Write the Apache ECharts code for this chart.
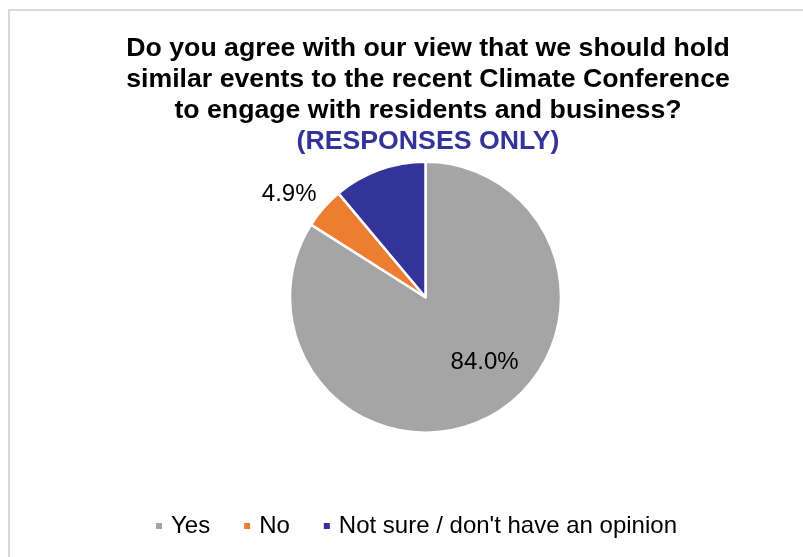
<!DOCTYPE html>
<html>
<head>
<meta charset="utf-8">
<script src="https://cdn.jsdelivr.net/npm/echarts@6/dist/echarts.min.js"></script>
<style>
  html, body { margin: 0; padding: 0; background: #ffffff; }
  #chart { width: 803px; height: 557px; }
</style>
</head>
<body>
<div id="chart"></div>
<script>
// Survey answers, share of responses (%)
const categories = ['Yes', 'No', 'Not sure / don\'t have an opinion'];
const shares = [84.0, 4.9, 11.1];
const sliceColors = ['#A5A5A5', '#ED7D31', '#333399'];
const showLabel = [true, true, false];

const titleLines = [
  'Do you agree with our view that we should hold',
  'similar events to the recent Climate Conference',
  'to engage with residents and business?'
];
const subtitle = '(RESPONSES ONLY)';

const labelOffsets = [[25, 3], [19, 5], [0, 0]];

const FONT = 'Liberation Sans, Arial, sans-serif';

const chart = echarts.init(document.getElementById('chart'), null, { renderer: 'canvas' });

const seriesData = categories.map((name, i) => ({
  name: name,
  value: shares[i],
  itemStyle: { color: sliceColors[i] },
  label: {
    show: showLabel[i],
    position: i === 0 ? 'inside' : 'outside',
    offset: labelOffsets[i]
  },
  labelLine: { show: false, length: 28, length2: 0 }
}));

chart.setOption({
  backgroundColor: '#ffffff',
  animation: false,
  graphic: [{
    type: 'rect',
    shape: { x: 9, y: 10, width: 820, height: 580 },
    style: { fill: 'none', stroke: '#D9D9D9', lineWidth: 2 },
    silent: true
  }],
  title: {
    text: titleLines.join('\n'),
    subtext: subtitle,
    left: 428,
    top: 33,
    textAlign: 'center',
    itemGap: 0,
    padding: 0,
    textStyle: {
      fontFamily: FONT,
      fontWeight: 'bold',
      fontSize: 26.7,
      lineHeight: 31,
      color: '#000000'
    },
    subtextStyle: {
      fontFamily: FONT,
      fontWeight: 'bold',
      fontSize: 26.7,
      lineHeight: 31,
      color: '#333399'
    }
  },
  legend: {
    top: 509,
    left: 149,
    itemWidth: 8,
    itemHeight: 8,
    itemGap: 32,
    icon: 'rect',
    data: categories,
    textStyle: {
      fontFamily: FONT,
      fontSize: 24,
      color: '#000000',
      padding: [0, 0, 0, 3]
    }
  },
  series: [{
    type: 'pie',
    center: [425.5, 297.2],
    radius: [0, 135.5],
    startAngle: 90,
    clockwise: true,
    avoidLabelOverlap: false,
    itemStyle: { borderColor: '#ffffff', borderWidth: 2.5 },
    label: {
      formatter: p => p.value.toFixed(1) + '%',
      fontFamily: FONT,
      fontSize: 24,
      color: '#000000'
    },
    emphasis: { disabled: true },
    data: seriesData
  }]
});
</script>
</body>
</html>
